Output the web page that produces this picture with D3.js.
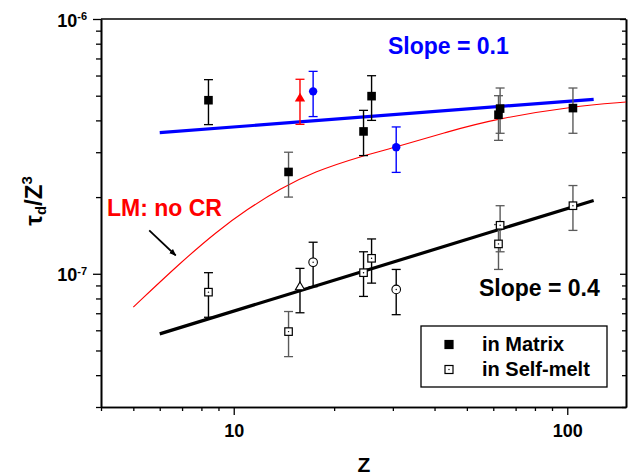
<!DOCTYPE html>
<html>
<head>
<meta charset="utf-8">
<script src="https://cdn.jsdelivr.net/npm/d3@7"></script>
<style>
  body { margin: 0; background: #fff; }
  svg { font-family: "Liberation Sans", Arial, sans-serif; font-weight: bold; }
</style>
</head>
<body>
<div id="chart"></div>
<script>
// values
const sampleZ = [8.4, 14.6, 24.5, 25.9, 62.2, 62.9, 104];

const matrixTau = [4.8e-7, 2.51e-7, 3.62e-7, 4.98e-7, 4.21e-7, 4.45e-7, 4.47e-7];
const matrixLo  = [3.85e-7, 2.0e-7, 2.91e-7, 4.0e-7, 3.34e-7, 3.56e-7, 3.56e-7];
const matrixHi  = [5.78e-7, 3.0e-7, 4.38e-7, 5.99e-7, 5.0e-7, 5.36e-7, 5.36e-7];

const meltTau = [8.47e-8, 5.93e-8, 1.01e-7, 1.15e-7, 1.31e-7, 1.55e-7, 1.85e-7];
const meltLo  = [6.75e-8, 4.73e-8, 8.15e-8, 9.19e-8, 1.04e-7, 1.22e-7, 1.48e-7];
const meltHi  = [1.01e-7, 7.11e-8, 1.22e-7, 1.37e-7, 1.56e-7, 1.85e-7, 2.22e-7];

// red triangle + blue circles (in matrix)
const triZ = [15.8];
const triTau = [4.87e-7], triLo = [3.86e-7], triHi = [5.8e-7];
const circZ = [17.3, 30.7];
const circTau = [5.2e-7, 3.14e-7], circLo = [4.14e-7, 2.5e-7], circHi = [6.23e-7, 3.77e-7];

// open triangle + open circles (in self-melt)
const oTriTau = [8.86e-8], oTriLo = [7.03e-8], oTriHi = [1.05e-7];
const oCircTau = [1.11e-7, 8.68e-8], oCircLo = [8.9e-8, 6.91e-8], oCircHi = [1.33e-7, 1.04e-7];

// power-law fits
const fitZ = [6, 120];
const fitSlope01 = [3.58e-7, 4.84e-7];
const fitSlope04 = [5.81e-8, 1.94e-7];

// LM model curve (no CR)
const lmZ   = [5, 6.93, 8.9, 10.96, 13.8, 17.3, 24.4, 30.7, 43.4, 61.2, 104, 150];
const lmTau = [7.4e-8, 1.107e-7, 1.466e-7, 1.79e-7, 2.16e-7, 2.51e-7, 2.91e-7, 3.14e-7, 3.6e-7, 4.06e-7, 4.54e-7, 4.72e-7];

// axis ticks
const xMajor = [10, 100];
const xMajorLabels = ["10", "100"];
const xMinor = [4, 5, 6, 7, 8, 9, 20, 30, 40, 50, 60, 70, 80, 90];
const yMajor = [1e-7, 1e-6];
const yMajorLabels = [["10", "-7"], ["10", "-6"]];
const yMinor = [3e-8, 4e-8, 5e-8, 6e-8, 7e-8, 8e-8, 9e-8, 2e-7, 3e-7, 4e-7, 5e-7, 6e-7, 7e-7, 8e-7, 9e-7];

const W = 634, H = 476;
const margin = { top: 19, right: 8, bottom: 69, left: 101 };

const svg = d3.select("#chart").append("svg")
  .attr("width", W)
  .attr("height", H);

const x = d3.scaleLog().domain([4, 150]).range([margin.left, W - margin.right]);
const y = d3.scaleLog().domain([3e-8, 1e-6]).range([H - margin.bottom, margin.top]);
const x0 = margin.left, x1 = W - margin.right;
const y0 = H - margin.bottom, y1 = margin.top;

// ---- axes ----
const styleAxis = g => {
  g.select(".domain").attr("stroke-width", 1.6);
  g.selectAll(".tick line").attr("stroke-width", 1.3);
};

svg.append("g")
  .attr("transform", `translate(0,${y0})`)
  .call(d3.axisBottom(x).tickValues(xMinor).tickSize(4).tickSizeOuter(0).tickFormat(""))
  .call(styleAxis);

svg.append("g")
  .attr("transform", `translate(0,${y0})`)
  .call(d3.axisBottom(x).tickValues(xMajor).tickSize(8).tickSizeOuter(0).tickPadding(9)
    .tickFormat((d, i) => xMajorLabels[i]))
  .call(styleAxis)
  .call(g => g.selectAll(".tick text").attr("font-size", 18).attr("fill", "#000"));

svg.append("g")
  .attr("transform", `translate(${x0},0)`)
  .call(d3.axisLeft(y).tickValues(yMinor).tickSize(5).tickSizeOuter(0).tickFormat(""))
  .call(styleAxis);

svg.append("g")
  .attr("transform", `translate(${x0},0)`)
  .call(d3.axisLeft(y).tickValues(yMajor).tickSize(8).tickSizeOuter(0).tickPadding(6).tickFormat(""))
  .call(styleAxis)
  .call(g => g.selectAll(".tick text").each(function (d, i) {
    const t = d3.select(this)
      .attr("font-size", 18)
      .attr("fill", "#000")
      .attr("dy", "0.39em");
    t.append("tspan").text(yMajorLabels[i][0]);
    t.append("tspan").attr("font-size", 11).attr("dy", -6.5).text(yMajorLabels[i][1]);
  }));

// right side, ticks pointing inward
svg.append("g")
  .attr("transform", `translate(${x1},0)`)
  .call(d3.axisLeft(y).tickValues(yMinor).tickSize(4).tickSizeOuter(0).tickFormat(""))
  .call(styleAxis);
svg.append("g")
  .attr("transform", `translate(${x1},0)`)
  .call(d3.axisLeft(y).tickValues(yMajor).tickSize(6).tickSizeOuter(0).tickFormat(""))
  .call(styleAxis);

// top border
svg.append("line")
  .attr("x1", x0).attr("x2", x1)
  .attr("y1", y1).attr("y2", y1)
  .attr("stroke", "#000")
  .attr("stroke-width", 1.6);

// axis titles
svg.append("text")
  .attr("x", 364)
  .attr("y", 472)
  .attr("text-anchor", "middle")
  .attr("font-size", 21)
  .text("Z");

const yTitle = svg.append("text")
  .attr("transform", "translate(42,201) rotate(-90)")
  .attr("text-anchor", "middle")
  .attr("font-size", 24);
yTitle.append("tspan").text("τ");
yTitle.append("tspan").attr("font-size", 15).attr("dy", 4).text("d");
yTitle.append("tspan").attr("dy", -4).text("/Z");
yTitle.append("tspan").attr("font-size", 15).attr("dy", -10).text("3");

// ---- fit lines and model curve ----
const line = d3.line().x(d => x(d[0])).y(d => y(d[1]));

svg.append("path")
  .datum(lmZ.map((z, i) => [z, lmTau[i]]))
  .attr("d", d3.line().x(d => x(d[0])).y(d => y(d[1])).curve(d3.curveBasis))
  .attr("fill", "none")
  .attr("stroke", "#ff0000")
  .attr("stroke-width", 1.1);

svg.append("path")
  .datum(fitZ.map((z, i) => [z, fitSlope01[i]]))
  .attr("d", line)
  .attr("fill", "none")
  .attr("stroke", "#0000ff")
  .attr("stroke-width", 3.2);

svg.append("path")
  .datum(fitZ.map((z, i) => [z, fitSlope04[i]]))
  .attr("d", line)
  .attr("fill", "none")
  .attr("stroke", "#000")
  .attr("stroke-width", 3.2);

// ---- error bars ----
const greyZ = new Set([14.6, 62.2, 62.9, 104]);
const errorBars = (zs, lo, hi, color) => {
  const g = svg.append("g");
  zs.forEach((z, i) => {
    const c = color || (greyZ.has(z) ? "#5a5a5a" : "#000");
    const px = x(z);
    g.append("line").attr("x1", px).attr("x2", px).attr("y1", y(lo[i])).attr("y2", y(hi[i]))
      .attr("stroke", c).attr("stroke-width", 1.4);
    [lo[i], hi[i]].forEach(v => {
      g.append("line").attr("x1", px - 4.5).attr("x2", px + 4.5).attr("y1", y(v)).attr("y2", y(v))
        .attr("stroke", c).attr("stroke-width", 1.3);
    });
  });
};

errorBars(sampleZ, meltLo, meltHi);
errorBars(triZ, oTriLo, oTriHi);
errorBars(circZ, oCircLo, oCircHi);
errorBars(sampleZ, matrixLo, matrixHi);
errorBars(triZ, triLo, triHi, "#ff0000");
errorBars(circZ, circLo, circHi, "#0000ff");

// ---- markers ----
const openSquare = (g, px, py, s) => {
  g.append("rect").attr("x", px - s / 2).attr("y", py - s / 2).attr("width", s).attr("height", s)
    .attr("fill", "#fff").attr("stroke", "#000").attr("stroke-width", 1.2);
  g.append("circle").attr("cx", px).attr("cy", py).attr("r", 0.7).attr("fill", "#000");
};

const marks = svg.append("g");
sampleZ.forEach((z, i) => openSquare(marks, x(z), y(meltTau[i]), 7.5));

marks.selectAll(".otri")
  .data(triZ)
  .join("path")
  .attr("transform", (d, i) => `translate(${x(d)},${y(oTriTau[i])})`)
  .attr("d", d3.symbol(d3.symbolTriangle, 36))
  .attr("fill", "#fff")
  .attr("stroke", "#000")
  .attr("stroke-width", 1.1);

circZ.forEach((z, i) => {
  marks.append("circle").attr("cx", x(z)).attr("cy", y(oCircTau[i])).attr("r", 4.3)
    .attr("fill", "#fff").attr("stroke", "#000").attr("stroke-width", 1.1);
  marks.append("circle").attr("cx", x(z)).attr("cy", y(oCircTau[i])).attr("r", 0.7).attr("fill", "#000");
});

marks.selectAll(".fsq")
  .data(sampleZ)
  .join("rect")
  .attr("x", (d, i) => x(d) - 4.3)
  .attr("y", (d, i) => y(matrixTau[i]) - 4.3)
  .attr("width", 8.6)
  .attr("height", 8.6)
  .attr("fill", "#000");

marks.selectAll(".ftri")
  .data(triZ)
  .join("path")
  .attr("transform", (d, i) => `translate(${x(d)},${y(triTau[i])})`)
  .attr("d", d3.symbol(d3.symbolTriangle, 46))
  .attr("fill", "#ff0000");

marks.selectAll(".fcirc")
  .data(circZ)
  .join("circle")
  .attr("cx", d => x(d))
  .attr("cy", (d, i) => y(circTau[i]))
  .attr("r", 4.2)
  .attr("fill", "#0000ff");

// ---- annotations ----
svg.append("defs").append("marker")
  .attr("id", "arrow")
  .attr("viewBox", "0 0 10 10")
  .attr("refX", 9).attr("refY", 5)
  .attr("markerWidth", 4).attr("markerHeight", 4)
  .attr("orient", "auto")
  .append("path")
  .attr("d", "M0,1 L10,5 L0,9 Z")
  .attr("fill", "#000");

const arrowFrom = [5.58, 1.48e-7], arrowTo = [6.70, 1.18e-7];
svg.append("line")
  .attr("x1", x(arrowFrom[0])).attr("y1", y(arrowFrom[1]))
  .attr("x2", x(arrowTo[0])).attr("y2", y(arrowTo[1]))
  .attr("stroke", "#000")
  .attr("stroke-width", 1.8)
  .attr("marker-end", "url(#arrow)");

svg.append("text")
  .attr("x", 107).attr("y", 216)
  .attr("font-size", 23)
  .attr("fill", "#ff0000")
  .text("LM: no CR");

svg.append("text")
  .attr("x", 388).attr("y", 54)
  .attr("font-size", 23)
  .attr("fill", "#0000ff")
  .text("Slope = 0.1");

svg.append("text")
  .attr("x", 479).attr("y", 296)
  .attr("font-size", 23)
  .attr("fill", "#000")
  .text("Slope = 0.4");

// ---- legend ----
const legend = svg.append("g");
legend.append("rect")
  .attr("x", 421).attr("y", 326)
  .attr("width", 186).attr("height", 61)
  .attr("fill", "#fff")
  .attr("stroke", "#000")
  .attr("stroke-width", 1.3);
legend.append("rect")
  .attr("x", 449 - 4.6).attr("y", 344.5 - 4.6)
  .attr("width", 9.2).attr("height", 9.2)
  .attr("fill", "#000");
openSquare(legend, 449, 369.5, 8);
legend.append("text").attr("x", 482).attr("y", 351).attr("font-size", 20).text("in Matrix");
legend.append("text").attr("x", 482).attr("y", 376).attr("font-size", 20).text("in Self-melt");
</script>
</body>
</html>
